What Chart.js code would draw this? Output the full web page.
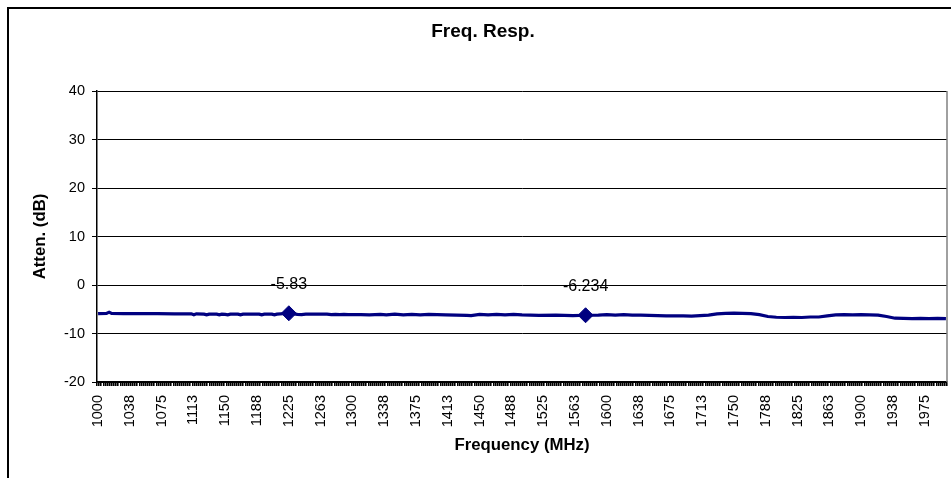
<!DOCTYPE html>
<html>
<head>
<meta charset="utf-8">
<script src="https://cdn.jsdelivr.net/npm/chart.js@4/dist/chart.umd.min.js"></script>
<style>
  html, body { margin: 0; padding: 0; background: #fff; overflow: hidden; }
  #frame { position: absolute; left: 7px; top: 7px; width: 1100px; height: 1100px; border: 2px solid #000; }
  #wrap { position: absolute; left: 0; top: 0; width: 951px; height: 478px; }
</style>
</head>
<body>
<div id="frame"></div>
<div id="wrap"><canvas id="respChart" width="951" height="478"></canvas></div>
<script>
// frequency points (MHz)
var freqs = [
  1000, 1010, 1013, 1016, 1030, 1050, 1070, 1090, 1110, 1113,
  1116, 1125, 1128, 1131, 1140, 1143, 1146, 1150, 1153, 1156,
  1165, 1168, 1171, 1190, 1193, 1196, 1205, 1208, 1211, 1225,
  1235, 1240, 1245, 1270, 1275, 1280, 1285, 1290, 1295, 1300,
  1310, 1320, 1333, 1340, 1350, 1360, 1370, 1380, 1390, 1400,
  1410, 1435, 1440, 1450, 1460, 1470, 1480, 1490, 1500, 1510,
  1520, 1540, 1560, 1575, 1590, 1600, 1610, 1620, 1630, 1640,
  1650, 1660, 1670, 1690, 1700, 1710, 1720, 1730, 1740, 1750,
  1760, 1770, 1780, 1790, 1800, 1810, 1820, 1830, 1840, 1850,
  1860, 1870, 1880, 1890, 1900, 1910, 1920, 1930, 1940, 1950,
  1960, 1970, 1980, 1990, 2000
];
// attenuation (dB)
var atten = [
  -5.9, -5.85, -5.6, -5.85, -5.9, -5.9, -5.9, -5.95, -5.95, -6.15,
  -5.95, -6.0, -6.15, -6.0, -6.0, -6.15, -6.0, -6.05, -6.15, -6.0,
  -6.0, -6.15, -6.0, -6.0, -6.15, -6.0, -6.0, -6.15, -6.0, -5.83,
  -6.05, -6.1, -6.0, -6.0, -6.1, -6.05, -6.1, -6.05, -6.1, -6.1,
  -6.1, -6.15, -6.05, -6.15, -6.0, -6.15, -6.05, -6.15, -6.05, -6.1,
  -6.15, -6.25, -6.3, -6.05, -6.15, -6.05, -6.15, -6.05, -6.15, -6.2,
  -6.25, -6.2, -6.3, -6.234, -6.2, -6.1, -6.2, -6.1, -6.2, -6.2,
  -6.25, -6.3, -6.35, -6.35, -6.4, -6.3, -6.2, -5.95, -5.85, -5.8,
  -5.85, -5.9, -6.1, -6.5, -6.65, -6.7, -6.65, -6.7, -6.6, -6.6,
  -6.35, -6.15, -6.1, -6.15, -6.1, -6.15, -6.2, -6.5, -6.85, -6.9,
  -6.95, -6.9, -6.95, -6.9, -6.95
];
// labelled points
var markerFreqs = [1225, 1575];
var markerVals = [-5.83, -6.234];

var yTicks = [-20, -10, 0, 10, 20, 30, 40];
var labelStart = 1000;
var labelStep = 37.5;
var freqStep = 2.5;

var linePts = freqs.map(function (f, i) { return { x: f, y: atten[i] }; });
var markPts = markerFreqs.map(function (f, i) { return { x: f, y: markerVals[i] }; });

Chart.defaults.font.family = '"Liberation Sans", Arial, sans-serif';
Chart.defaults.color = "#000";

// chart title, value labels above the markers, grey right edge of the plot
var extras = {
  id: "extras",
  afterDatasetsDraw: function (chart) {
    var ctx = chart.ctx;
    var a = chart.chartArea;
    ctx.save();
    ctx.strokeStyle = "#808080";
    ctx.lineWidth = 1.5;
    ctx.beginPath();
    ctx.moveTo(a.right, a.top);
    ctx.lineTo(a.right, a.bottom);
    ctx.stroke();

    ctx.fillStyle = "#000";
    ctx.textAlign = "center";
    ctx.textBaseline = "middle";
    ctx.font = 'bold 19px "Liberation Sans", Arial, sans-serif';
    ctx.fillText("Freq. Resp.", 483, 32);

    var meta = chart.getDatasetMeta(1);
    ctx.font = '16px "Liberation Sans", Arial, sans-serif';
    meta.data.forEach(function (pt, i) {
      ctx.fillText(String(markerVals[i]), pt.x, pt.y - 29);
    });
    ctx.restore();
  }
};

var ctx = document.getElementById("respChart").getContext("2d");
var myChart = new Chart(ctx, {
  type: "line",
  data: {
    datasets: [
      {
        data: linePts,
        borderColor: "#000080",
        borderWidth: 3.2,
        pointRadius: 0,
        tension: 0,
        fill: false,
      },
      {
        data: markPts,
        showLine: false,
        pointStyle: "rectRot",
        pointRadius: 7.5,
        pointBackgroundColor: "#000080",
        pointBorderColor: "#000080",
        pointBorderWidth: 1,
      },
    ],
  },
  options: {
    responsive: false,
    animation: false,
    layout: {
      autoPadding: false,
      padding: { left: 0, right: 4, top: 91, bottom: 0 },
    },
    plugins: {
      legend: { display: false },
      tooltip: { enabled: false },
      title: { display: false },
    },
    scales: {
      x: {
        type: "linear",
        min: labelStart - freqStep / 2,
        max: 2000 + freqStep / 2,
        border: { display: true, color: "#000", width: 1.5 },
        grid: {
          drawOnChartArea: false,
          drawTicks: true,
          tickLength: 4,
          color: "#000",
          lineWidth: 1.6,
        },
        ticks: {
          stepSize: freqStep,
          autoSkip: false,
          minRotation: 90,
          maxRotation: 90,
          padding: 9,
          labelOffset: 1,
          font: { size: 14.5 },
          callback: function (v) {
            var c = v + freqStep / 2; // label sits in the middle of the category
            if (c > 1999 || (c - labelStart) % labelStep !== 0) return "";
            return String(Math.round(c));
          },
        },
        title: {
          display: true,
          text: "Frequency (MHz)",
          color: "#000",
          font: { size: 16.8, weight: "bold" },
          padding: { top: 0, bottom: 23 },
        },
        afterFit: function (s) {
          s.height = 96;
          s.paddingLeft = 0;
          s.paddingRight = 0;
        },
      },
      y: {
        min: -20,
        max: 40,
        border: { display: true, color: "#000", width: 1.5 },
        grid: { color: "#000", lineWidth: 1, tickLength: 5 },
        afterBuildTicks: function (s) {
          s.ticks = yTicks.map(function (v) { return { value: v }; });
        },
        ticks: {
          padding: 7,
          font: { size: 14.5 },
        },
        title: {
          display: true,
          text: "Atten. (dB)",
          color: "#000",
          font: { size: 16.8, weight: "bold" },
          padding: { top: 30, bottom: 0 },
        },
        afterFit: function (s) {
          s.width = 97;
          s.paddingTop = 0;
          s.paddingBottom = 0;
        },
      },
    },
  },
  plugins: [extras],
});
</script>
</body>
</html>
